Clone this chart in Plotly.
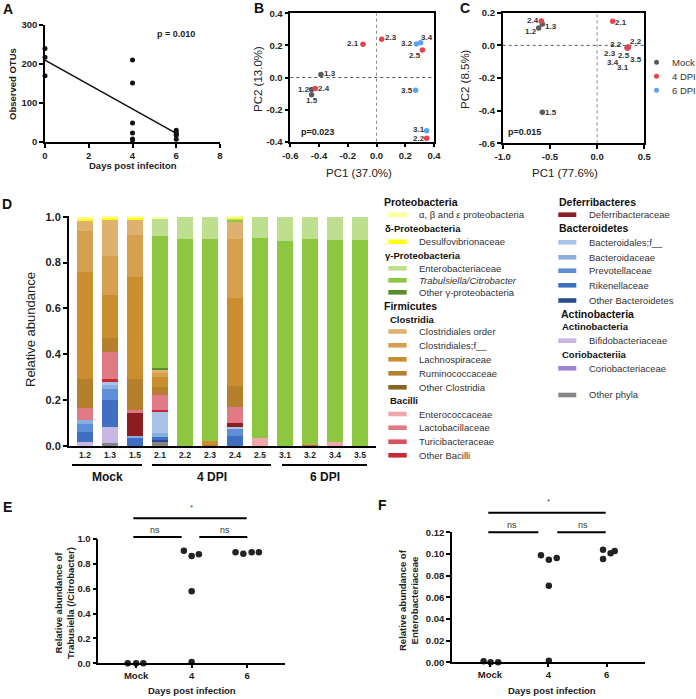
import plotly.graph_objects as go

W, H = 696, 699
FONT = "Liberation Sans, Arial, Helvetica, sans-serif"

# ---------------- Panel A data ----------------
a_days = [0, 0, 0, 4, 4, 4, 4, 4, 4, 6, 6, 6, 6, 6]
a_otus = [240, 217, 170, 210, 151, 49, 23, 8, 5, 30, 24, 20, 17, 7]
a_fit_days = [0, 6]
a_fit_otus = [210, 22]
a_xticks = [0, 2, 4, 6, 8]
a_yticks = [0, 100, 200, 300]

# ---------------- Panels B / C data ----------------
pc_samples = ["1.2", "1.3", "1.5", "2.1", "2.2", "2.3", "2.4", "2.5", "3.1", "3.2", "3.4", "3.5"]
pc_groups = ["Mock", "Mock", "Mock", "4 DPI", "4 DPI", "4 DPI", "4 DPI", "4 DPI",
             "6 DPI", "6 DPI", "6 DPI", "6 DPI"]
b_pc1 = [-0.452, -0.387, -0.452, -0.094, 0.349, 0.036, -0.426, 0.319, 0.349, 0.277, 0.307, 0.272]
b_pc2 = [-0.074, 0.018, -0.107, 0.207, -0.379, 0.238, -0.068, 0.171, -0.331, 0.209, 0.217, -0.080]
c_pc1 = [-0.619, -0.580, -0.580, 0.165, 0.330, 0.318, -0.591, 0.326, 0.322, 0.318, 0.326, 0.330]
c_pc2 = [0.106, 0.131, -0.410, 0.147, -0.010, -0.016, 0.149, -0.013, -0.014, -0.012, -0.016, -0.013]
group_names = ["Mock", "4 DPI", "6 DPI"]

# ---------------- Panel D data (bottom -> top stacking) ----------------
bar_samples = ["1.2", "1.3", "1.5", "2.1", "2.2", "2.3", "2.4", "2.5", "3.1", "3.2", "3.4", "3.5"]
other_phyla         = [0, .012, 0, .016, 0, 0, 0, 0, 0, 0, 0, 0]
coriobacteriaceae   = [0, 0, 0, 0, 0, 0, 0, 0, 0, 0, 0, 0]
bifidobacteriaceae  = [.019, .072, 0, 0, 0, 0, 0, 0, 0, 0, 0, 0]
other_bacteroidetes = [0, 0, 0, .010, 0, 0, 0, 0, 0, 0, 0, 0]
rikenellaceae       = [.041, .116, .033, .015, 0, 0, .043, 0, 0, 0, 0, 0]
prevotellaceae      = [.035, .048, 0, 0, 0, 0, .031, 0, 0, 0, 0, 0]
bacteroidaceae      = [.018, .020, .010, .014, 0, 0, 0, 0, 0, 0, 0, 0]
bacteroidales_f     = [0, .015, 0, .094, 0, 0, .010, 0, 0, 0, 0, 0]
deferribacteraceae  = [0, 0, .102, 0, 0, 0, .015, 0, 0, 0, 0, 0]
other_bacilli       = [0, .008, 0, .008, 0, 0, 0, 0, 0, 0, 0, 0]
turicibacteraceae   = [0, 0, 0, 0, 0, 0, 0, 0, 0, .006, 0, 0]
lactobacillaceae    = [.051, .119, .012, .065, 0, 0, .072, 0, 0, 0, 0, 0]
enterococcaceae     = [0, 0, 0, 0, 0, 0, 0, .035, 0, 0, .017, 0]
other_clostridia    = [0, 0, 0, 0, 0, 0, 0, 0, 0, 0, 0, 0]
ruminococcaceae     = [.130, .062, .134, .036, 0, .004, .090, 0, 0, 0, 0, 0]
lachnospiraceae     = [.464, .185, .445, .042, 0, .019, .385, 0, 0, 0, 0, 0]
clostridiales_f     = [.178, .173, .186, .019, 0, 0, .257, 0, 0, 0, 0, 0]
clostridiales_order = [.044, .156, .065, .015, 0, 0, .072, 0, 0, 0, 0, 0]
other_gamma         = [0, 0, 0, .004, 0, 0, 0, 0, 0, 0, 0, 0]
trabulsiella        = [0, 0, 0, .579, .903, .878, .013, .870, .896, .898, .882, .897]
enterobacteriaceae  = [0, 0, 0, .073, .097, .099, .002, .095, .104, .096, .101, .103]
desulfovibrionaceae = [.014, .010, .009, 0, 0, 0, .006, 0, 0, 0, 0, 0]
abe_proteobacteria  = [.006, .004, .004, .010, 0, 0, .004, 0, 0, 0, 0, 0]
d_yticks = [0, 0.2, 0.4, 0.6, 0.8, 1.0]

# ---------------- Panels E / F data ----------------
ef_categories = ["Mock", "4", "6"]
e_mock = [0.0, 0.0, 0.0]
e_dpi4 = [0.905, 0.863, 0.877, 0.579, 0.010]
e_dpi6 = [0.893, 0.882, 0.893, 0.893]
f_mock = [0.001, 0.0, 0.0]
f_dpi4 = [0.0988, 0.0947, 0.0963, 0.0707, 0.0015]
f_dpi6 = [0.1040, 0.0954, 0.1006, 0.1028]
e_yticks = [0, 0.2, 0.4, 0.6, 0.8, 1.0]
f_yticks = [0, 0.02, 0.04, 0.06, 0.08, 0.10, 0.12]

# ---------------- styles ----------------
group_colors = {"Mock": "#5b5b5b", "4 DPI": "#e8434b", "6 DPI": "#5aa4ea"}
taxa = [
    ("Other phyla", other_phyla, "#858585"),
    ("Coriobacteriaceae", coriobacteriaceae, "#9d84d3"),
    ("Bifidobacteriaceae", bifidobacteriaceae, "#c8b6e4"),
    ("Other Bacteroidetes", other_bacteroidetes, "#2b4c92"),
    ("Rikenellaceae", rikenellaceae, "#3f6fc2"),
    ("Prevotellaceae", prevotellaceae, "#5e8ed5"),
    ("Bacteroidaceae", bacteroidaceae, "#8aaee0"),
    ("Bacteroidales;f__", bacteroidales_f, "#a9c3e7"),
    ("Deferribacteraceae", deferribacteraceae, "#8c1b22"),
    ("Other Bacilli", other_bacilli, "#c62a35"),
    ("Turicibacteraceae", turicibacteraceae, "#d9535f"),
    ("Lactobacillaceae", lactobacillaceae, "#e27a86"),
    ("Enterococcaceae", enterococcaceae, "#efa6ad"),
    ("Other Clostridia", other_clostridia, "#8a6322"),
    ("Ruminococcaceae", ruminococcaceae, "#b57f2c"),
    ("Lachnospiraceae", lachnospiraceae, "#ca8e2f"),
    ("Clostridiales;f__", clostridiales_f, "#d6a04e"),
    ("Clostridiales order", clostridiales_order, "#deb16f"),
    ("Other γ-proteobacteria", other_gamma, "#5b8c2a"),
    ("<i>Trabulsiella/Citrobacter</i>", trabulsiella, "#8dc63f"),
    ("Enterobacteriaceae", enterobacteriaceae, "#bedf8e"),
    ("Desulfovibrionaceae", desulfovibrionaceae, "#ffff1a"),
    ("α, β and ε proteobacteria", abe_proteobacteria, "#ffff99"),
]
taxa_color = {n: c for n, _, c in taxa}


def px(x):
    return x / W


def py(y):
    return 1 - y / H


def dom_x(l, r):
    return [l / W, r / W]


def dom_y(top, bottom):
    return [1 - bottom / H, 1 - top / H]


def fmt(vals, nd):
    return [f"{v:.{nd}f}" for v in vals]


fig = go.Figure()
annotations = []
shapes = []


def text(x, y, s, size=10, bold=False, color="#222", xanchor="center", yanchor="middle", angle=0):
    if bold:
        s = f"<b>{s}</b>"
    annotations.append(dict(x=px(x), y=py(y), xref="paper", yref="paper", text=s, showarrow=False,
                            xanchor=xanchor, yanchor=yanchor, textangle=angle,
                            font=dict(family=FONT, size=size, color=color)))


def line(x0, y0, x1, y1, width=2, color="black", dash=None):
    shapes.append(dict(type="line", xref="paper", yref="paper", x0=px(x0), y0=py(y0), x1=px(x1), y1=py(y1),
                       line=dict(color=color, width=width, dash=dash)))


axis_base = dict(showgrid=False, zeroline=False, showline=True, linecolor="black", linewidth=1.5,
                 ticks="outside", ticklen=4, tickwidth=1.5, tickcolor="black", automargin=False,
                 tickfont=dict(family=FONT, size=9.5, color="#222", weight="bold"))

# ---------------- Panel A ----------------
fig.add_trace(go.Scatter(x=a_fit_days, y=a_fit_otus, mode="lines", line=dict(color="#111", width=1.5),
                         xaxis="x", yaxis="y", cliponaxis=False))
fig.add_trace(go.Scatter(x=a_days, y=a_otus, mode="markers", marker=dict(color="#111", size=5),
                         xaxis="x", yaxis="y", cliponaxis=False))

# ---------------- Panels B / C ----------------
pc_offsets_b = {"1.2": (-8, 0), "1.3": (9, 1), "1.5": (0, -6), "2.1": (-10, 1), "2.2": (-8, 0),
                "2.3": (9, 2), "2.4": (9, 0), "2.5": (-7, -5), "3.1": (-8, 1), "3.2": (-9, 0),
                "3.4": (6, 5), "3.5": (-9, 0)}
pc_offsets_c = {"1.2": (-8, -3), "1.3": (9, -3), "1.5": (9, 0), "2.1": (8, -1), "2.2": (8, 5),
                "2.3": (-17, -6), "2.4": (-8, 1), "2.5": (-4, -8), "3.1": (-5, -20), "3.2": (-11, 3),
                "3.4": (-15, -15), "3.5": (8, -12)}

for xa, ya, pc1, pc2, offs in [("x2", "y2", b_pc1, b_pc2, pc_offsets_b), ("x3", "y3", c_pc1, c_pc2, pc_offsets_c)]:
    for g in ["6 DPI", "Mock", "4 DPI"]:
        idx = [i for i, gg in enumerate(pc_groups) if gg == g]
        fig.add_trace(go.Scatter(x=[pc1[i] for i in idx], y=[pc2[i] for i in idx], mode="markers",
                                 marker=dict(color=group_colors[g], size=5.5),
                                 xaxis=xa, yaxis=ya, cliponaxis=False))
    for i, s in enumerate(pc_samples):
        dx, dy = offs[s]
        annotations.append(dict(x=pc1[i], y=pc2[i], xref=xa, yref=ya, text=f"<b>{s}</b>", showarrow=False,
                                xshift=dx, yshift=dy, font=dict(family=FONT, size=8, color="#333")))
    shapes.append(dict(type="line", xref=xa, yref=f"{ya} domain", x0=0, x1=0, y0=0, y1=1,
                       line=dict(color="#888", width=1, dash="dot"), layer="below"))
    shapes.append(dict(type="line", xref=f"{xa} domain", yref=ya, x0=0, x1=1, y0=0, y1=0,
                       line=dict(color="#555", width=1, dash="dot"), layer="below"))

# ---------------- Panel D ----------------
for name, vals, color in taxa:
    fig.add_trace(go.Bar(x=bar_samples, y=vals, name=name, marker=dict(color=color, line=dict(width=0)),
                         width=0.66, xaxis="x4", yaxis="y4"))

# ---------------- Panels E / F ----------------
e_off = ([-0.15, 0.0, 0.13], [-0.14, 0.0, 0.13, 0.0, 0.0], [-0.21, -0.07, 0.08, 0.21])
f_off = ([-0.11, 0.01, 0.14], [-0.125, 0.01, 0.145, 0.01, 0.01], [-0.06, -0.06, 0.07, 0.14])
for xa, ya, groups, offs in [("x5", "y5", (e_mock, e_dpi4, e_dpi6), e_off),
                             ("x6", "y6", (f_mock, f_dpi4, f_dpi6), f_off)]:
    for gi, (vals, off) in enumerate(zip(groups, offs)):
        fig.add_trace(go.Scatter(x=[gi + o for o in off], y=vals, mode="markers",
                                 marker=dict(color="#222", size=6.5), xaxis=xa, yaxis=ya, cliponaxis=False))

layout_axes = dict(
    xaxis=dict(axis_base, domain=dom_x(45, 220), range=[0, 8], tickvals=a_xticks, anchor="y"),
    yaxis=dict(axis_base, domain=dom_y(25, 142), range=[0, 300], tickvals=a_yticks, anchor="x"),
    xaxis2=dict(axis_base, domain=dom_x(290.3, 434), range=[-0.6, 0.4], mirror=True,
                tickvals=[-0.6, -0.4, -0.2, 0, 0.2, 0.4], ticktext=["-0.6", "-0.4", "-0.2", "0.0", "0.2", "0.4"],
                anchor="y2"),
    yaxis2=dict(axis_base, domain=dom_y(13.3, 141.7), range=[-0.4, 0.4], mirror=True,
                tickvals=[-0.4, -0.2, 0, 0.2, 0.4], ticktext=["-0.4", "-0.2", "0.0", "0.2", "0.4"], anchor="x2"),
    xaxis3=dict(axis_base, domain=dom_x(502.7, 644.3), range=[-1.0, 0.5], mirror=True,
                tickvals=[-1.0, -0.5, 0, 0.5], ticktext=["-1.0", "-0.5", "0.0", "0.5"], anchor="y3"),
    yaxis3=dict(axis_base, domain=dom_y(12.7, 143.3), range=[-0.6, 0.2], mirror=True,
                tickvals=[-0.6, -0.4, -0.2, 0, 0.2], ticktext=["-0.6", "-0.4", "-0.2", "0.0", "0.2"], anchor="x3"),
    xaxis4=dict(axis_base, domain=dom_x(68.7, 376), type="category", range=[-0.65, 11.64], ticks="",
                tickfont=dict(family=FONT, size=8.5, color="#222", weight="bold"), anchor="y4"),
    yaxis4=dict(axis_base, domain=dom_y(216, 446), range=[0, 1.003], tickvals=d_yticks,
                ticktext=fmt(d_yticks, 1), tickfont=dict(family=FONT, size=11, color="#222", weight="bold"),
                anchor="x4"),
    xaxis5=dict(axis_base, domain=dom_x(98.3, 285), range=[-0.68, 2.68], tickvals=[0, 1, 2],
                ticktext=ef_categories, ticklen=3, anchor="y5"),
    yaxis5=dict(axis_base, domain=dom_y(539, 663.3), range=[0, 1.0], tickvals=e_yticks,
                ticktext=fmt(e_yticks, 1), anchor="x5"),
    xaxis6=dict(axis_base, domain=dom_x(452, 645), range=[-0.652, 2.66], tickvals=[0, 1, 2],
                ticktext=ef_categories, ticklen=3, anchor="y6"),
    yaxis6=dict(axis_base, domain=dom_y(532.3, 662.3), range=[0, 0.12], tickvals=f_yticks,
                ticktext=fmt(f_yticks, 2), anchor="x6"),
)

# ---------------- texts ----------------
for letter, x, y in [("A", 8, 9), ("B", 259, 8), ("C", 465, 8), ("D", 7, 204), ("E", 7, 507), ("F", 382, 505)]:
    text(x, y, letter, size=14, bold=True, color="#111")

text(13, 84, "Observed OTUs", size=9.5, bold=True, angle=-90)
text(133, 165, "Days post infeciton", size=9.5, bold=True)
text(176, 34, "p = 0.010", size=9, bold=True)

text(258, 79, "PC2 (13.0%)", size=11.5, angle=-90, color="#222")
text(359, 173, "PC1 (37.0%)", size=11.5, color="#222")
text(317, 132, "p=0.023", size=9, bold=True)

text(465, 79, "PC2 (8.5%)", size=11.5, angle=-90, color="#222")
text(565, 173, "PC1 (77.6%)", size=11.5, color="#222")
text(524, 132, "p=0.015", size=9, bold=True)

# C legend
for i, g in enumerate(group_names):
    yy = 62.3 + 14 * i
    shapes.append(dict(type="circle", xref="paper", yref="paper", x0=px(654), x1=px(659),
                       y0=py(yy + 2.5), y1=py(yy - 2.5), fillcolor=group_colors[g], line=dict(width=0)))
    text(669.5, yy, g, size=9.5, color="#333", xanchor="left")

# D
text(30, 330, "Relative abundance", size=13, angle=-90, color="#222")
for g, x0, x1 in [("Mock", 72, 142), ("4 DPI", 152, 271), ("6 DPI", 282, 367)]:
    line(x0, 465, x1, 465, width=2)
    text((x0 + x1) / 2, 477, g, size=12, bold=True, color="#111")

# D legend
col1 = [("h", "Proteobacteria", 381.5, 201.7, 10.5),
        ("i", "α, β and ε proteobacteria", 214.7),
        ("h", "δ-Proteobacteria", 383, 228.3, 9.5),
        ("i", "Desulfovibrionaceae", 241.7),
        ("h", "γ-Proteobacteria", 383, 255.7, 9.5),
        ("i", "Enterobacteriaceae", 268.3),
        ("i", "<i>Trabulsiella/Citrobacter</i>", 280.3),
        ("i", "Other γ-proteobacteria", 292.3),
        ("h", "Firmicutes", 382, 306, 10.5),
        ("h", "Clostridia", 388, 319, 9.5),
        ("i", "Clostridiales order", 331.5),
        ("i", "Clostridiales;f__", 345.3),
        ("i", "Lachnospiraceae", 359.3),
        ("i", "Ruminococcaceae", 373.3),
        ("i", "Other Clostridia", 387.3),
        ("h", "Bacilli", 388, 400.7, 9.5),
        ("i", "Enterococcaceae", 414),
        ("i", "Lactobacillaceae", 427.7),
        ("i", "Turicibacteraceae", 441.7),
        ("i", "Other Bacilli", 455.3)]
col2 = [("h", "Deferribacteres", 557.3, 201.7, 10.5),
        ("i", "Deferribacteraceae", 214.7),
        ("h", "Bacteroidetes", 557.3, 228.3, 10.5),
        ("i", "Bacteroidales;f__", 242.3),
        ("i", "Bacteroidaceae", 257.3),
        ("i", "Prevotellaceae", 270.7),
        ("i", "Rikenellaceae", 285.3),
        ("i", "Other Bacteroidetes", 300.5),
        ("h", "Actinobacteria", 559, 314, 10.5),
        ("h", "Actinobacteria", 559.5, 326.7, 9.5),
        ("i", "Bifidobacteriaceae", 340.7),
        ("h", "Coriobacteriia", 559.5, 354, 9.5),
        ("i", "Coriobacteriaceae", 368.3),
        ("i", "Other phyla", 395)]
for entries, sw0, sw1, tx in [(col1, 388.3, 406.7, 416.7), (col2, 558.3, 576.3, 586.7)]:
    for e in entries:
        if e[0] == "h":
            _, s, x, y, size = e
            text(x, y, s, size=size, bold=True, color="#111", xanchor="left")
        else:
            _, s, y = e
            shapes.append(dict(type="rect", xref="paper", yref="paper", x0=px(sw0), x1=px(sw1),
                               y0=py(y + 2.3), y1=py(y - 2.3), fillcolor=taxa_color[s], line=dict(width=0)))
            text(tx, y, s, size=9.5, color="#333", xanchor="left")

# E
text(64, 603, "Relative abundance of<br>Trabusiella (/Citrobacter)", size=9.5, bold=True, angle=-90)
text(192, 690, "Days post infection", size=9.5, bold=True)
line(133.3, 518.3, 246.7, 518.3)
text(191.7, 507, "*", size=8, color="#444")
line(133.3, 537, 181.7, 537)
line(199.3, 537, 247.3, 537)
text(155, 530, "ns", size=9, color="#333")
text(225, 530, "ns", size=9, color="#333")

# F
text(408, 600, "Relative abundance of<br>Enterobacteriaceae", size=9.5, bold=True, angle=-90)
text(552, 690.5, "Days post infection", size=9.5, bold=True)
line(488.3, 512.7, 605.7, 512.7)
text(548.3, 501, "*", size=8, color="#444")
line(488.3, 532.3, 538.3, 532.3)
line(557.3, 532.3, 605.7, 532.3)
text(511.7, 525, "ns", size=9, color="#333")
text(582.7, 525, "ns", size=9, color="#333")

fig.update_layout(
    template="none",
    width=W, height=H, margin=dict(l=0, r=0, t=0, b=0, pad=0, autoexpand=False),
    paper_bgcolor="white", plot_bgcolor="white", showlegend=False,
    barmode="stack", bargap=0.34,
    font=dict(family=FONT, color="#222"),
    annotations=annotations, shapes=shapes,
    **layout_axes,
)

fig.write_html("out.html", config={"displayModeBar": False},
               post_script="document.body.style.margin='0';document.body.style.overflow='hidden';")
